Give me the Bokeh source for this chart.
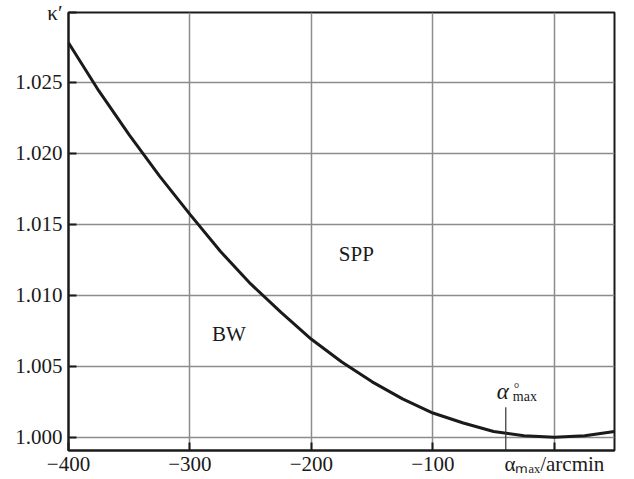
from bokeh.plotting import figure
from bokeh.models import Label, Range1d, FixedTicker, NumeralTickFormatter
from bokeh.embed import file_html
from bokeh.resources import INLINE

# curve values
alpha_max = [-400, -375, -350, -325, -300, -275, -250, -225, -200, -175,
             -150, -125, -100, -75, -50, -25, 0, 25, 49.5]
kappa = [1.0278, 1.0244, 1.0213, 1.0184, 1.0157, 1.0131, 1.0108, 1.0088, 1.0069, 1.0053,
         1.0039, 1.0027, 1.0017, 1.0010, 1.0004, 1.0001, 1.0000, 1.0001, 1.0004]

x_ticks = [-400, -300, -200, -100, 0]
x_tick_labels = ["−400", "−300", "−200", "−100", "αₘₐₓ/arcmin"]

y_min, y_max = 0.99906, 1.02993
y_ticks = [1.000, 1.005, 1.010, 1.015, 1.020, 1.025, y_max]
y_title = "κ′"

alpha_opt = -40  # position of the alpha°max marker
marker_top = 1.0021

region_labels = ["BW", "SPP"]
region_x = [-268, -163]
region_y = [1.00724, 1.01288]

FONT = "Liberation Serif"
INK = "#1a1a1a"
GRID = "#8c8c8c"

p = figure(width=634, height=479,
           x_range=Range1d(-400, 49.5), y_range=Range1d(y_min, y_max),
           output_backend="svg", toolbar_location=None,
           min_border_left=68, min_border_right=20, min_border_top=12, min_border_bottom=29)

p.background_fill_color = "white"
p.border_fill_color = "white"
p.outline_line_color = INK
p.outline_line_width = 2
p.outline_line_alpha = 1

p.xgrid.grid_line_color = GRID
p.xgrid.grid_line_width = 1.5
p.ygrid.grid_line_color = GRID
p.ygrid.grid_line_width = 1.5

for ax in (p.xaxis[0], p.yaxis[0]):
    ax.axis_line_color = INK
    ax.axis_line_width = 2
    ax.major_tick_line_color = INK
    ax.major_tick_line_width = 2
    ax.major_tick_in = 8
    ax.major_tick_out = 0
    ax.minor_tick_line_color = None
    ax.major_label_text_font = FONT
    ax.major_label_text_font_size = "21px"
    ax.major_label_text_color = INK

p.xaxis.ticker = FixedTicker(ticks=x_ticks)
p.xaxis.major_label_overrides = {t: s for t, s in zip(x_ticks, x_tick_labels)}
p.xaxis.major_label_standoff = 1

p.yaxis.ticker = FixedTicker(ticks=y_ticks)
p.yaxis.formatter = NumeralTickFormatter(format="0.000")
p.yaxis.major_label_overrides = {y_max: y_title}
p.yaxis.major_label_standoff = 6

# curve
p.line(alpha_max, kappa, line_color=INK, line_width=3)

# alpha°max marker
p.segment(x0=[alpha_opt], y0=[marker_top], x1=[alpha_opt], y1=[y_min],
          line_color="#333333", line_width=1.2)

# region labels
for t, x, y in zip(region_labels, region_x, region_y):
    p.add_layout(Label(x=x, y=y, text=t, text_font=FONT, text_font_size="21px",
                       text_color=INK, text_align="center", text_baseline="middle"))

# alpha°max label
p.add_layout(Label(x=alpha_opt, y=1.00320, x_offset=-9, text="α", text_font=FONT,
                   text_font_style="italic", text_font_size="23px", text_color=INK,
                   text_baseline="middle"))
p.add_layout(Label(x=alpha_opt, y=1.00345, x_offset=8, text="°", text_font=FONT,
                   text_font_size="14px", text_color=INK, text_baseline="middle"))
p.add_layout(Label(x=alpha_opt, y=1.00285, x_offset=7, text="max", text_font=FONT,
                   text_font_size="14px", text_color=INK, text_baseline="middle"))

open("out.html", "w").write(file_html(p, INLINE))
